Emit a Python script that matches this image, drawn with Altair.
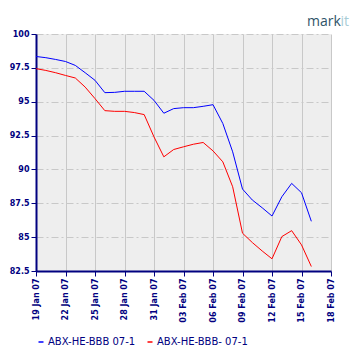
import altair as alt
import pandas as pd

dates = ["2007-01-19", "2007-01-20", "2007-01-21", "2007-01-22", "2007-01-23",
         "2007-01-24", "2007-01-25", "2007-01-26", "2007-01-27", "2007-01-28",
         "2007-01-29", "2007-01-30", "2007-01-31", "2007-02-01", "2007-02-02",
         "2007-02-03", "2007-02-04", "2007-02-05", "2007-02-06", "2007-02-07",
         "2007-02-08", "2007-02-09", "2007-02-10", "2007-02-11", "2007-02-12",
         "2007-02-13", "2007-02-14", "2007-02-15", "2007-02-16"]

bbb = [98.34, 98.25, 98.12, 97.97, 97.68, 97.14, 96.58, 95.67, 95.69, 95.77,
       95.77, 95.77, 95.10, 94.15, 94.49, 94.56, 94.56, 94.66, 94.78, 93.39,
       91.30, 88.55, 87.74, 87.17, 86.56, 87.98, 88.97, 88.28, 86.17]

bbb_minus = [97.44, 97.31, 97.14, 96.94, 96.75, 96.08, 95.23, 94.34, 94.29, 94.29,
             94.20, 94.05, 92.40, 90.93, 91.47, 91.67, 91.86, 91.99, 91.37, 90.56,
             88.72, 85.29, 84.60, 83.98, 83.40, 85.04, 85.48, 84.43, 82.83]

series_names = ["ABX-HE-BBB 07-1", "ABX-HE-BBB- 07-1"]
series_colors = ["#0000ff", "#ff0000"]

tick_dates = ["2007-01-19", "2007-01-22", "2007-01-25", "2007-01-28", "2007-01-31",
              "2007-02-03", "2007-02-06", "2007-02-09", "2007-02-12", "2007-02-15",
              "2007-02-18"]
y_ticks = [82.5, 85, 87.5, 90, 92.5, 95, 97.5, 100]

rows = []
for name, vals in zip(series_names, [bbb, bbb_minus]):
    for d, v in zip(dates, vals):
        rows.append({"date": d, "value": v, "series": name})
df = pd.DataFrame(rows)

navy = "#000080"

x_enc = alt.X("date:T",
              scale=alt.Scale(type="utc", domain=[tick_dates[0], tick_dates[-1]]),
              axis=alt.Axis(values=[alt.DateTime(year=int(t[:4]), month=int(t[5:7]), date=int(t[8:]), utc=True) for t in tick_dates],
                            format="%d %b %y", labelAngle=-90, labelAlign="right",
                            labelBaseline="middle", title=None,
                            grid=True, gridColor="#c8c8c8", gridWidth=1))
y_enc = alt.Y("value:Q",
              scale=alt.Scale(domain=[82.5, 100], nice=False, zero=False),
              axis=alt.Axis(values=y_ticks, title=None,
                            labelExpr="datum.value % 1 == 0 ? format(datum.value, 'd') : format(datum.value, '.1f')",
                            grid=True, gridColor="#c8c8c8", gridDash=[7, 3, 2, 3]))

lines = alt.Chart(df).mark_line(strokeWidth=1, interpolate="linear").encode(
    x=x_enc, y=y_enc,
    color=alt.Color("series:N",
                    scale=alt.Scale(domain=series_names, range=series_colors),
                    legend=alt.Legend(orient="none", legendX=0, legendY=303,
                                      direction="horizontal", title=None,
                                      symbolType="stroke", symbolSize=25,
                                      symbolStrokeWidth=1.5, columnPadding=8,
                                      labelFont="DejaVu Sans", labelFontSize=10,
                                      labelColor=navy, symbolOffset=0,
                                      labelOffset=2)),
)

logo = alt.Chart(pd.DataFrame({"t": ["mark", "it"], "c": ["#2f5468", "#a8ccd6"],
                               "x": [271, 304.5]})).mark_text(
    font="Open Sans", fontSize=14, fontWeight=500, align="left", baseline="alphabetic").encode(
    text="t:N",
    x=alt.X("x:Q", scale=None),
    y=alt.value(-8),
    color=alt.Color("c:N", scale=None),
)

chart = alt.layer(lines, logo).properties(
    width=295, height=237,
    background="white",
    autosize=alt.AutoSizeParams(type="none"),
    padding={"left": 28, "top": 26, "right": 20, "bottom": 80},
).configure_view(
    fill="#eeeeee", stroke=None
).configure_axis(
    domainColor=navy, domainWidth=2, tickColor=navy, tickSize=5, tickWidth=1,
    labelColor=navy, labelFont="DejaVu Sans", labelFontSize=8, labelFontWeight="bold",
    labelPadding=2,
)

chart.save("out.html", embed_options={"renderer": "svg", "actions": False})
